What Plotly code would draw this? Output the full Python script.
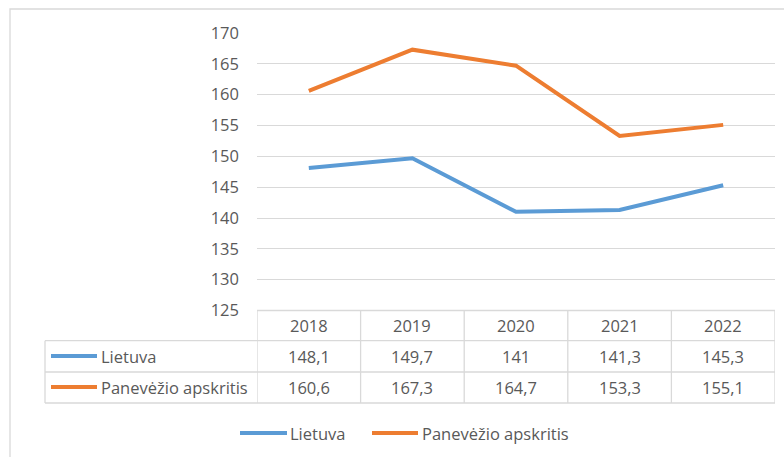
import plotly.graph_objects as go

# ---- data ----
years = ["2018", "2019", "2020", "2021", "2022"]
series_names = ["Lietuva", "Panevėžio apskritis"]
lietuva = [148.1, 149.7, 141.0, 141.3, 145.3]
panevezio = [160.6, 167.3, 164.7, 153.3, 155.1]
y_ticks = [125, 130, 135, 140, 145, 150, 155, 160, 165, 170]

colors = ["#5B9BD5", "#ED7D31"]
text_color = "#595959"
grid_color = "#D9D9D9"
FONT = "Open Sans"
FS = 16.5

W, H = 784, 457
def px(x):
    return x / W
def py(y):
    return 1 - y / H

def fmt(v):
    return f"{v:g}".replace(".", ",")

fig = go.Figure()
all_series = [lietuva, panevezio]
for name, vals, col in zip(series_names, all_series, colors):
    fig.add_trace(go.Scatter(x=years, y=vals, mode="lines", name=name,
                             line=dict(color=col, width=4), showlegend=False,
                             hoverinfo="skip"))

shapes = []
annotations = []

def label(x, y, text, xref="paper", xanchor="center"):
    annotations.append(dict(x=x, y=y, xref=xref, yref="paper", text=text,
                            xanchor=xanchor, yanchor="middle", showarrow=False,
                            font=dict(family=FONT, size=FS, color=text_color)))

# outer chart border
shapes.append(dict(type="rect", xref="paper", yref="paper",
                   x0=px(10), x1=px(800), y0=py(470), y1=py(9),
                   line=dict(color="#D9D9D9", width=1.3)))

# data table horizontal lines
row_y = [310.5, 340.7, 372, 403]
for i, yy in enumerate(row_y):
    x_start = 257 if i == 0 else 45
    shapes.append(dict(type="line", xref="paper", yref="paper",
                       x0=px(x_start), x1=px(775), y0=py(yy), y1=py(yy),
                       line=dict(color=grid_color, width=1.3)))
# left edge of label column
shapes.append(dict(type="line", xref="paper", yref="paper",
                   x0=px(45), x1=px(45), y0=py(340.7), y1=py(403),
                   line=dict(color=grid_color, width=1.3)))
# column boundaries via category axis
for k in range(len(years) + 1):
    shapes.append(dict(type="line", xref="x", yref="paper",
                       x0=k - 0.5, x1=k - 0.5, y0=py(310.5), y1=py(403),
                       line=dict(color=grid_color, width=1.3)))

# header years
for i, yr in enumerate(years):
    label(i, py(325), yr, xref="x")
# value rows
row_centers = [356, 387]
for r, (name, vals, col) in enumerate(zip(series_names, all_series, colors)):
    yc = row_centers[r]
    for i, v in enumerate(vals):
        label(i, py(yc), fmt(v), xref="x")
    shapes.append(dict(type="line", xref="paper", yref="paper",
                       x0=px(51), x1=px(97), y0=py(yc), y1=py(yc),
                       line=dict(color=col, width=4)))
    label(px(98.5), py(yc), name, xanchor="left")

# bottom legend
leg_keys = [(240, 287, 288), (372, 418, 419.5)]
for (x0, x1, xt), name, col in zip(leg_keys, series_names, colors):
    shapes.append(dict(type="line", xref="paper", yref="paper",
                       x0=px(x0), x1=px(x1), y0=py(433), y1=py(433),
                       line=dict(color=col, width=4)))
    label(px(xt), py(433), name, xanchor="left")

fig.update_layout(
    width=W, height=H,
    margin=dict(l=0, r=0, t=0, b=0),
    paper_bgcolor="white", plot_bgcolor="white",
    shapes=shapes, annotations=annotations,
    hovermode=False,
    xaxis=dict(type="category", domain=[px(257), px(775)], range=[-0.5, len(years) - 0.5],
               showticklabels=False, showgrid=False, zeroline=False, showline=False),
    yaxis=dict(domain=[py(310.5), py(33)], range=[125, 170], tickvals=y_ticks,
               showgrid=True, gridcolor=grid_color, gridwidth=1.3, zeroline=False, showline=False,
               ticks="", ticklabelstandoff=17, automargin=False,
               tickfont=dict(family=FONT, size=FS, color=text_color)),
    font=dict(family=FONT, size=FS, color=text_color),
)

fig.write_html("out.html",
               config={"displayModeBar": False},
               post_script="document.body.style.margin='0';document.body.style.overflow='hidden';")
